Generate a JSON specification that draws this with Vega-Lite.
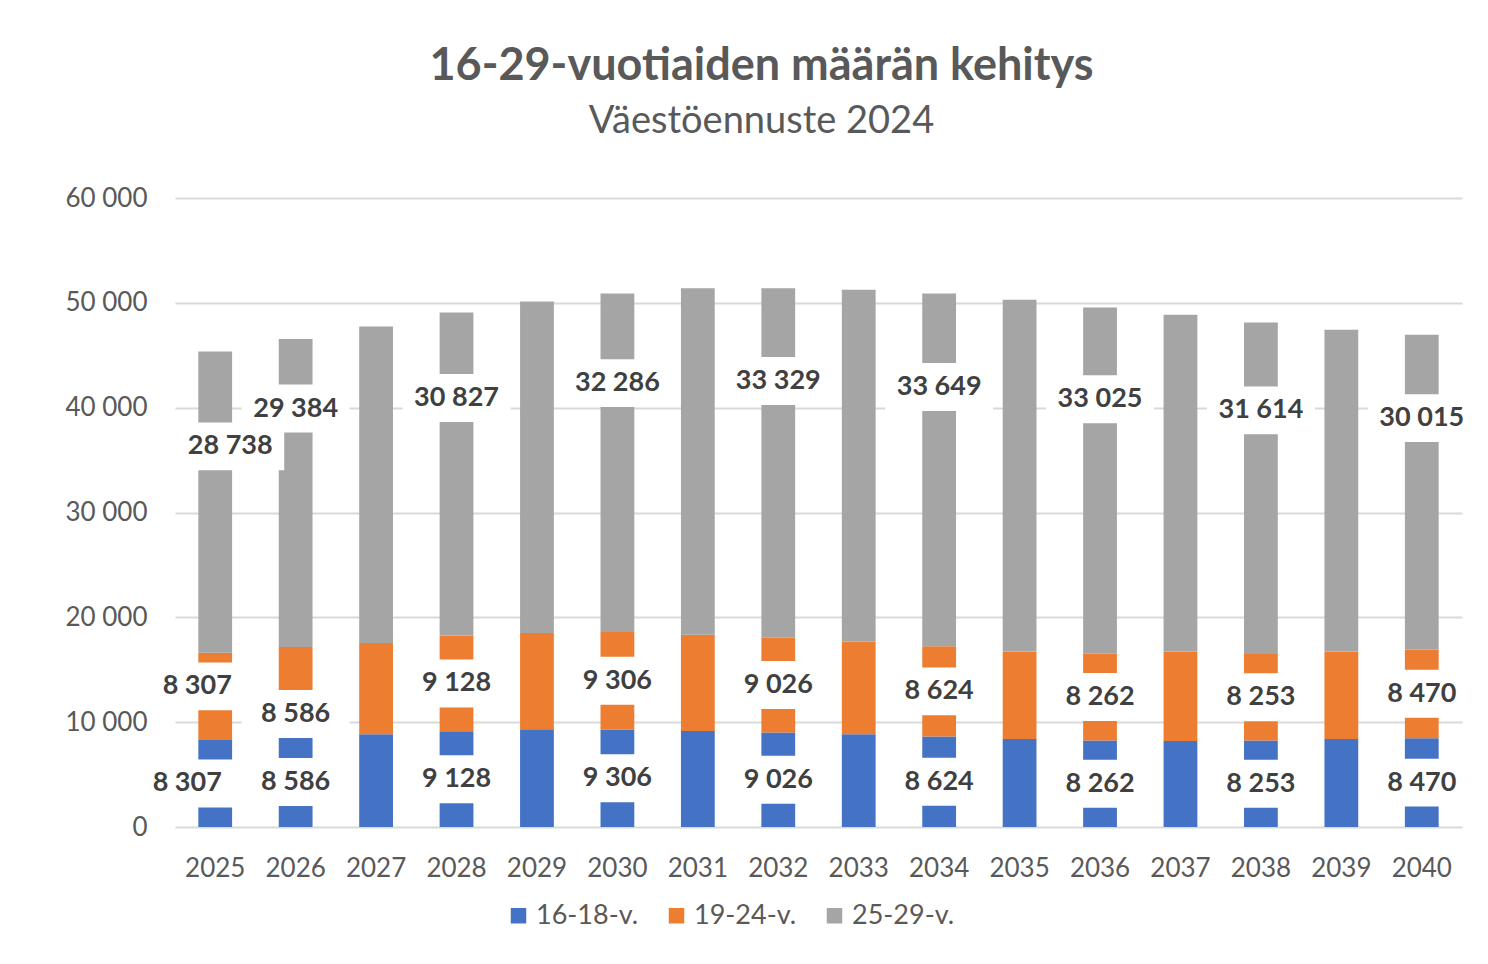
{
  "$schema": "https://vega.github.io/schema/vega-lite/v6.json",
  "width": 1287,
  "height": 629,
  "autosize": {"type": "none"},
  "padding": {"left": 175, "top": 198, "right": 26, "bottom": 137},
  "background": "white",
  "title": {
    "text": "16-29-vuotiaiden määrän kehitys",
    "subtitle": "Väestöennuste 2024",
    "anchor": "middle",
    "dx": -57,
    "offset": 44,
    "font": "Lato",
    "fontSize": 45,
    "fontWeight": "bold",
    "color": "#595959",
    "subtitleFont": "Lato",
    "subtitleFontSize": 38,
    "subtitleColor": "#595959",
    "subtitlePadding": 14
  },
  "config": {
    "locale": {"number": {"decimal": ",", "thousands": "\u00a0", "grouping": [3], "currency": ["", "\u00a0€"]}},
    "view": {"stroke": null},
    "font": "Lato",
    "axis": {"labelFont": "Lato", "labelColor": "#595959", "labelFontSize": 26},
    "point": {"shape": "M-1,-0.444L1,-0.444L1,0.444L-1,0.444Z", "filled": true, "fill": "white", "strokeWidth": 0, "size": 11664},
    "text": {"font": "Lato", "fontSize": 27, "fontWeight": "bold", "color": "#404040", "baseline": "middle", "align": "center"}
  },
  "data": {
    "values": [
      {"year": 2025, "group": "16-18-v.", "value": 8307},
      {"year": 2025, "group": "19-24-v.", "value": 8307},
      {"year": 2025, "group": "25-29-v.", "value": 28738},
      {"year": 2026, "group": "16-18-v.", "value": 8586},
      {"year": 2026, "group": "19-24-v.", "value": 8586},
      {"year": 2026, "group": "25-29-v.", "value": 29384},
      {"year": 2027, "group": "16-18-v.", "value": 8850},
      {"year": 2027, "group": "19-24-v.", "value": 8700},
      {"year": 2027, "group": "25-29-v.", "value": 30190},
      {"year": 2028, "group": "16-18-v.", "value": 9128},
      {"year": 2028, "group": "19-24-v.", "value": 9128},
      {"year": 2028, "group": "25-29-v.", "value": 30827},
      {"year": 2029, "group": "16-18-v.", "value": 9330},
      {"year": 2029, "group": "19-24-v.", "value": 9180},
      {"year": 2029, "group": "25-29-v.", "value": 31620},
      {"year": 2030, "group": "16-18-v.", "value": 9306},
      {"year": 2030, "group": "19-24-v.", "value": 9306},
      {"year": 2030, "group": "25-29-v.", "value": 32286},
      {"year": 2031, "group": "16-18-v.", "value": 9165},
      {"year": 2031, "group": "19-24-v.", "value": 9180},
      {"year": 2031, "group": "25-29-v.", "value": 33055},
      {"year": 2032, "group": "16-18-v.", "value": 9026},
      {"year": 2032, "group": "19-24-v.", "value": 9026},
      {"year": 2032, "group": "25-29-v.", "value": 33329},
      {"year": 2033, "group": "16-18-v.", "value": 8850},
      {"year": 2033, "group": "19-24-v.", "value": 8850},
      {"year": 2033, "group": "25-29-v.", "value": 33550},
      {"year": 2034, "group": "16-18-v.", "value": 8624},
      {"year": 2034, "group": "19-24-v.", "value": 8624},
      {"year": 2034, "group": "25-29-v.", "value": 33649},
      {"year": 2035, "group": "16-18-v.", "value": 8400},
      {"year": 2035, "group": "19-24-v.", "value": 8350},
      {"year": 2035, "group": "25-29-v.", "value": 33540},
      {"year": 2036, "group": "16-18-v.", "value": 8262},
      {"year": 2036, "group": "19-24-v.", "value": 8262},
      {"year": 2036, "group": "25-29-v.", "value": 33025},
      {"year": 2037, "group": "16-18-v.", "value": 8210},
      {"year": 2037, "group": "19-24-v.", "value": 8520},
      {"year": 2037, "group": "25-29-v.", "value": 32130},
      {"year": 2038, "group": "16-18-v.", "value": 8253},
      {"year": 2038, "group": "19-24-v.", "value": 8253},
      {"year": 2038, "group": "25-29-v.", "value": 31614},
      {"year": 2039, "group": "16-18-v.", "value": 8400},
      {"year": 2039, "group": "19-24-v.", "value": 8350},
      {"year": 2039, "group": "25-29-v.", "value": 30680},
      {"year": 2040, "group": "16-18-v.", "value": 8470},
      {"year": 2040, "group": "19-24-v.", "value": 8470},
      {"year": 2040, "group": "25-29-v.", "value": 30015}
    ]
  },
  "encoding": {
    "x": {
      "field": "year",
      "type": "ordinal",
      "title": null,
      "scale": {"paddingInner": 0.58, "paddingOuter": 0.29},
      "axis": {"labelAngle": 0, "ticks": false, "tickSize": 0, "domain": false, "grid": false, "labelPadding": 28}
    },
    "detail": {"field": "group"},
    "order": {"field": "group", "sort": "ascending"}
  },
  "layer": [
    {
      "mark": {"type": "bar"},
      "encoding": {
        "y": {
          "field": "value",
          "type": "quantitative",
          "stack": "zero",
          "title": null,
          "scale": {"domain": [0, 60000]},
          "axis": {
            "values": [0, 10000, 20000, 30000, 40000, 50000, 60000],
            "format": ",d",
            "ticks": false,
            "domain": false,
            "labelPadding": 28,
            "gridColor": "#d9d9d9",
            "gridWidth": 2
          }
        },
        "color": {
          "field": "group",
          "type": "nominal",
          "scale": {"domain": ["16-18-v.", "19-24-v.", "25-29-v."], "range": ["#4472C4", "#ED7D31", "#A5A5A5"]},
          "legend": {
            "title": null,
            "orient": "none",
            "direction": "horizontal",
            "legendX": 330,
            "legendY": 704,
            "symbolType": "square",
            "symbolSize": 240,
            "symbolStrokeWidth": 0,
            "labelFont": "Lato",
            "labelFontSize": 27,
            "labelColor": "#595959",
            "labelOffset": 4,
            "columnPadding": 24
          }
        }
      }
    },
    {
      "transform": [{"filter": "datum.year % 2 == 0 && datum.year > 2026"}],
      "layer": [
        {
          "mark": {"type": "point"},
          "encoding": {
            "y": {"field": "value", "type": "quantitative", "stack": "zero", "bandPosition": 0.5},
            "opacity": {"condition": {"test": "datum.group != '25-29-v.'", "value": 1}, "value": 0}
          }
        },
        {
          "mark": {"type": "point"},
          "encoding": {
            "y": {"field": "value", "type": "quantitative", "stack": "zero", "bandPosition": 0.735},
            "opacity": {"condition": {"test": "datum.group == '25-29-v.'", "value": 1}, "value": 0}
          }
        },
        {
          "mark": {"type": "text"},
          "encoding": {
            "y": {"field": "value", "type": "quantitative", "stack": "zero", "bandPosition": 0.5},
            "text": {"condition": {"test": "datum.group != '25-29-v.'", "field": "value", "type": "quantitative", "format": ",d"}, "value": ""}
          }
        },
        {
          "mark": {"type": "text"},
          "encoding": {
            "y": {"field": "value", "type": "quantitative", "stack": "zero", "bandPosition": 0.735},
            "text": {"condition": {"test": "datum.group == '25-29-v.'", "field": "value", "type": "quantitative", "format": ",d"}, "value": ""}
          }
        }
      ]
    },
    {
      "transform": [{"filter": "datum.year == 2026"}],
      "layer": [
        {
          "mark": {"type": "point"},
          "encoding": {
            "y": {"field": "value", "type": "quantitative", "stack": "zero", "bandPosition": 0.5},
            "opacity": {"condition": {"test": "datum.group == '16-18-v.'", "value": 1}, "value": 0}
          }
        },
        {
          "mark": {"type": "point", "yOffset": 22},
          "encoding": {
            "y": {"field": "value", "type": "quantitative", "stack": "zero", "bandPosition": 0.5},
            "opacity": {"condition": {"test": "datum.group == '19-24-v.'", "value": 1}, "value": 0}
          }
        },
        {
          "mark": {"type": "point", "yOffset": -12},
          "encoding": {
            "y": {"field": "value", "type": "quantitative", "stack": "zero", "bandPosition": 0.735},
            "opacity": {"condition": {"test": "datum.group == '25-29-v.'", "value": 1}, "value": 0}
          }
        },
        {
          "mark": {"type": "text"},
          "encoding": {
            "y": {"field": "value", "type": "quantitative", "stack": "zero", "bandPosition": 0.5},
            "text": {"condition": {"test": "datum.group == '16-18-v.'", "field": "value", "type": "quantitative", "format": ",d"}, "value": ""}
          }
        },
        {
          "mark": {"type": "text", "yOffset": 22},
          "encoding": {
            "y": {"field": "value", "type": "quantitative", "stack": "zero", "bandPosition": 0.5},
            "text": {"condition": {"test": "datum.group == '19-24-v.'", "field": "value", "type": "quantitative", "format": ",d"}, "value": ""}
          }
        },
        {
          "mark": {"type": "text", "yOffset": -12},
          "encoding": {
            "y": {"field": "value", "type": "quantitative", "stack": "zero", "bandPosition": 0.735},
            "text": {"condition": {"test": "datum.group == '25-29-v.'", "field": "value", "type": "quantitative", "format": ",d"}, "value": ""}
          }
        }
      ]
    },
    {
      "transform": [{"filter": "datum.year == 2025"}],
      "layer": [
        {
          "mark": {"type": "point", "xOffset": -28},
          "encoding": {
            "y": {"field": "value", "type": "quantitative", "stack": "zero", "bandPosition": 0.5},
            "opacity": {"condition": {"test": "datum.group == '16-18-v.'", "value": 1}, "value": 0}
          }
        },
        {
          "mark": {"type": "point", "xOffset": -18, "yOffset": -10},
          "encoding": {
            "y": {"field": "value", "type": "quantitative", "stack": "zero", "bandPosition": 0.5},
            "opacity": {"condition": {"test": "datum.group == '19-24-v.'", "value": 1}, "value": 0}
          }
        },
        {
          "mark": {"type": "point", "xOffset": 15, "yOffset": 15},
          "encoding": {
            "y": {"field": "value", "type": "quantitative", "stack": "zero", "bandPosition": 0.735},
            "opacity": {"condition": {"test": "datum.group == '25-29-v.'", "value": 1}, "value": 0}
          }
        },
        {
          "mark": {"type": "text", "xOffset": -28},
          "encoding": {
            "y": {"field": "value", "type": "quantitative", "stack": "zero", "bandPosition": 0.5},
            "text": {"condition": {"test": "datum.group == '16-18-v.'", "field": "value", "type": "quantitative", "format": ",d"}, "value": ""}
          }
        },
        {
          "mark": {"type": "text", "xOffset": -18, "yOffset": -10},
          "encoding": {
            "y": {"field": "value", "type": "quantitative", "stack": "zero", "bandPosition": 0.5},
            "text": {"condition": {"test": "datum.group == '19-24-v.'", "field": "value", "type": "quantitative", "format": ",d"}, "value": ""}
          }
        },
        {
          "mark": {"type": "text", "xOffset": 15, "yOffset": 15},
          "encoding": {
            "y": {"field": "value", "type": "quantitative", "stack": "zero", "bandPosition": 0.735},
            "text": {"condition": {"test": "datum.group == '25-29-v.'", "field": "value", "type": "quantitative", "format": ",d"}, "value": ""}
          }
        }
      ]
    }
  ]
}
